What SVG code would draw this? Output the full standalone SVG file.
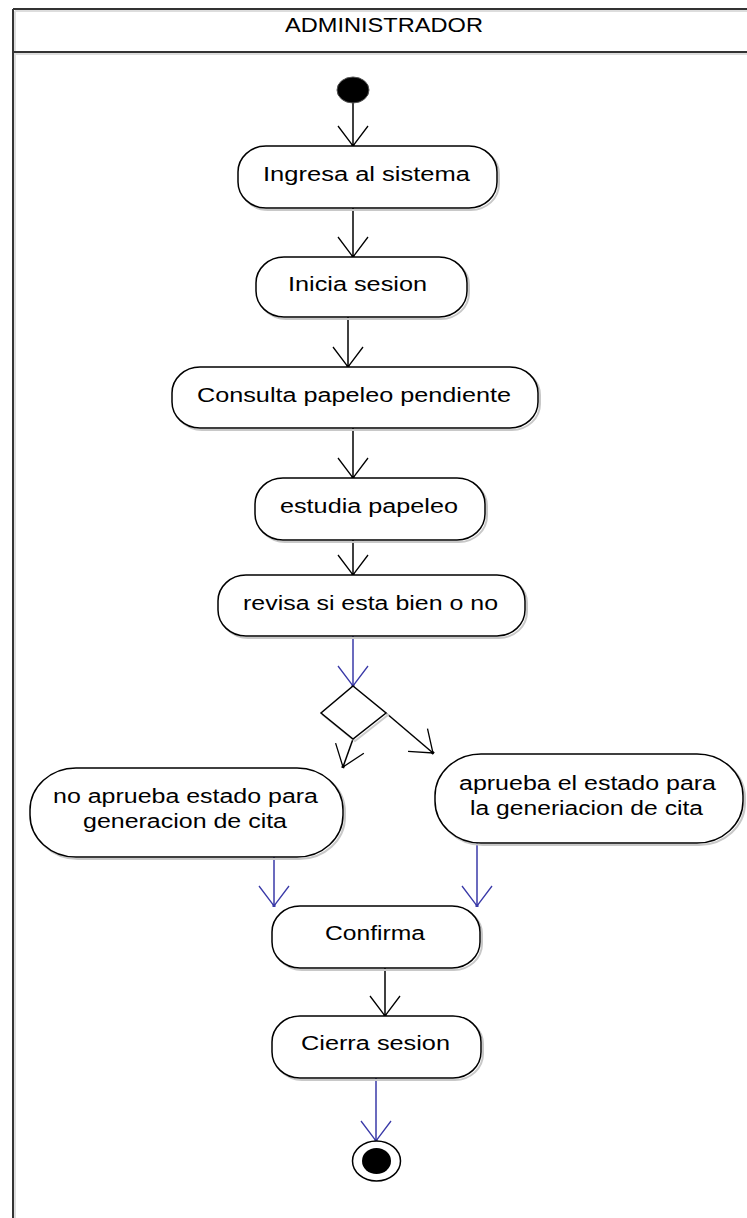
<svg xmlns="http://www.w3.org/2000/svg" width="747" height="1218" viewBox="0 0 747 1218">
<style>
.node{fill:#fff;stroke:#000;stroke-width:1.5}
.shadow{fill:none;stroke:#c8c8c8;stroke-width:2}
.lbl{font-family:"Liberation Sans",Arial,sans-serif;font-size:20px;fill:#000}
.c{fill:none;stroke-width:1.5}
.k{stroke:#000}
.b{stroke:#3a3aa8}
.frame{fill:none;stroke:#333;stroke-width:2}
.fshadow{fill:none;stroke:#ddd;stroke-width:2}
</style>
<defs>
<marker id="ak" markerUnits="userSpaceOnUse" markerWidth="26" markerHeight="34" refX="22" refY="17" orient="auto">
<path d="M2,2 L22,17 L2,32" fill="none" stroke="#000" stroke-width="1.3"/>
<rect x="20" y="15.5" width="3" height="3" fill="#000"/>
</marker>
<marker id="ab" markerUnits="userSpaceOnUse" markerWidth="26" markerHeight="34" refX="22" refY="17" orient="auto">
<path d="M2,2 L22,17 L2,32" fill="none" stroke="#3a3aa8" stroke-width="1.3"/>
<rect x="20" y="15.5" width="3" height="3" fill="#3a3aa8"/>
</marker>
</defs>
<rect width="747" height="1218" fill="#fff"/>
<g id="lane">
<path class="fshadow" d="M15,11 H760 M15,54 H760 M15,11 V1230"/>
<path class="frame" d="M13,9 H760 M13,52 H760 M13,9 V1230"/>
<text class="lbl" x="285" y="32" textLength="198" lengthAdjust="spacingAndGlyphs">ADMINISTRADOR</text>
</g>
<g id="connectors">
<line class="c k" x1="353" y1="103" x2="353" y2="146" marker-end="url(#ak)"/>
<line class="c k" x1="353" y1="208" x2="353" y2="257" marker-end="url(#ak)"/>
<line class="c k" x1="348" y1="317" x2="348" y2="367" marker-end="url(#ak)"/>
<line class="c k" x1="353" y1="428" x2="353" y2="478" marker-end="url(#ak)"/>
<line class="c k" x1="353" y1="540" x2="353" y2="575" marker-end="url(#ak)"/>
<line class="c b" x1="353" y1="636" x2="353" y2="686" marker-end="url(#ab)"/>
<line class="c k" x1="353" y1="739" x2="343" y2="767" marker-end="url(#ak)"/>
<line class="c k" x1="386" y1="713" x2="433" y2="753" marker-end="url(#ak)"/>
<line class="c b" x1="274" y1="857" x2="274" y2="906" marker-end="url(#ab)"/>
<line class="c b" x1="477" y1="843" x2="477" y2="906" marker-end="url(#ab)"/>
<line class="c k" x1="385" y1="968" x2="385" y2="1016" marker-end="url(#ak)"/>
<line class="c b" x1="376" y1="1078" x2="376" y2="1141" marker-end="url(#ab)"/>
</g>
<g id="start">
<ellipse cx="353" cy="90" rx="16" ry="13" fill="#000" stroke="#555" stroke-width="1"/>
</g>
<g id="n1">
<rect class="shadow" x="240" y="148" width="259" height="62" rx="28" ry="26"/>
<rect class="node" x="238" y="146" width="259" height="62" rx="28" ry="26"/>
<text class="lbl" x="263" y="181" textLength="207" lengthAdjust="spacingAndGlyphs">Ingresa al sistema</text>
</g>
<g id="n2">
<rect class="shadow" x="258" y="259" width="211" height="60" rx="28" ry="26"/>
<rect class="node" x="256" y="257" width="211" height="60" rx="28" ry="26"/>
<text class="lbl" x="288" y="291" textLength="139" lengthAdjust="spacingAndGlyphs">Inicia sesion</text>
</g>
<g id="n3">
<rect class="shadow" x="174" y="369" width="366" height="61" rx="28" ry="26"/>
<rect class="node" x="172" y="367" width="366" height="61" rx="28" ry="26"/>
<text class="lbl" x="197" y="402" textLength="314" lengthAdjust="spacingAndGlyphs">Consulta papeleo pendiente</text>
</g>
<g id="n4">
<rect class="shadow" x="257" y="480" width="230" height="62" rx="28" ry="26"/>
<rect class="node" x="255" y="478" width="230" height="62" rx="28" ry="26"/>
<text class="lbl" x="280" y="513" textLength="178" lengthAdjust="spacingAndGlyphs">estudia papeleo</text>
</g>
<g id="n5">
<rect class="shadow" x="220" y="577" width="307" height="61" rx="28" ry="26"/>
<rect class="node" x="218" y="575" width="307" height="61" rx="28" ry="26"/>
<text class="lbl" x="243" y="610" textLength="255" lengthAdjust="spacingAndGlyphs">revisa si esta bien o no</text>
</g>
<g id="decision">
<polygon points="355,688 388,715 355,741 323,715" fill="none" stroke="#ccc" stroke-width="2"/>
<polygon points="353,686 386,713 353,739 321,713" fill="#fff" stroke="#000" stroke-width="1.5"/>
</g>
<g id="n6">
<rect class="shadow" x="32" y="770" width="313" height="89" rx="46" ry="42"/>
<rect class="node" x="30" y="768" width="313" height="89" rx="46" ry="42"/>
<text class="lbl" x="53" y="803" textLength="265" lengthAdjust="spacingAndGlyphs">no aprueba estado para</text>
<text class="lbl" x="83" y="828" textLength="204" lengthAdjust="spacingAndGlyphs">generacion de cita</text>
</g>
<g id="n7">
<rect class="shadow" x="437" y="756" width="308" height="89" rx="46" ry="42"/>
<rect class="node" x="435" y="754" width="308" height="89" rx="46" ry="42"/>
<text class="lbl" x="459" y="790" textLength="257" lengthAdjust="spacingAndGlyphs">aprueba el estado para</text>
<text class="lbl" x="470" y="815" textLength="233" lengthAdjust="spacingAndGlyphs">la generiacion de cita</text>
</g>
<g id="n8">
<rect class="shadow" x="274" y="908" width="208" height="62" rx="28" ry="26"/>
<rect class="node" x="272" y="906" width="208" height="62" rx="28" ry="26"/>
<text class="lbl" x="325" y="940" textLength="100" lengthAdjust="spacingAndGlyphs">Confirma</text>
</g>
<g id="n9">
<rect class="shadow" x="274" y="1018" width="209" height="62" rx="28" ry="26"/>
<rect class="node" x="272" y="1016" width="209" height="62" rx="28" ry="26"/>
<text class="lbl" x="301" y="1050" textLength="149" lengthAdjust="spacingAndGlyphs">Cierra sesion</text>
</g>
<g id="end">
<ellipse cx="376.5" cy="1161" rx="24" ry="20" fill="#fff" stroke="#000" stroke-width="1.5"/>
<ellipse cx="376.5" cy="1161" rx="14.5" ry="13" fill="#000"/>
</g>
</svg>
